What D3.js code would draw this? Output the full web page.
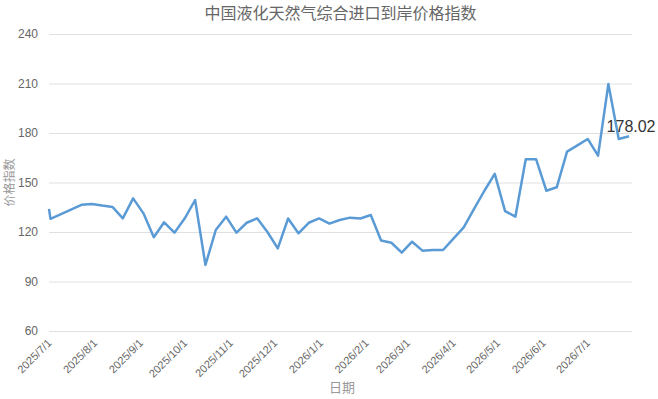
<!DOCTYPE html>
<html>
<head>
<meta charset="utf-8">
<script src="https://cdn.jsdelivr.net/npm/d3@7"></script>
<style>
  body { margin: 0; background: #fff; }
  svg { font-family: "Liberation Sans", Arial, "Noto Sans CJK SC", sans-serif; }
</style>
</head>
<body>
<svg id="chart"></svg>
<script>
var dates = ["2025-07-01","2025-07-02","2025-07-23","2025-07-30","2025-08-06","2025-08-13","2025-08-20","2025-08-27",
  "2025-09-03","2025-09-10","2025-09-17","2025-09-24","2025-10-01","2025-10-08","2025-10-15","2025-10-22","2025-10-29",
  "2025-11-05","2025-11-12","2025-11-19","2025-11-26","2025-12-03","2025-12-10","2025-12-17","2025-12-24","2025-12-31",
  "2026-01-07","2026-01-14","2026-01-21","2026-01-28","2026-02-04","2026-02-11","2026-02-18","2026-02-25",
  "2026-03-04","2026-03-11","2026-03-18","2026-03-25","2026-04-01","2026-04-08","2026-04-15","2026-04-22","2026-04-29",
  "2026-05-06","2026-05-13","2026-05-20","2026-05-27","2026-06-03","2026-06-10","2026-06-17","2026-06-24",
  "2026-07-01","2026-07-08","2026-07-15","2026-07-22","2026-07-29"];
var values = [134, 128, 136.5, 137, 136, 135.2, 128.3, 140.4,
  131.3, 116.8, 125.9, 119.6, 128.3, 139.4, 100, 121.2, 129.3,
  119.6, 125.6, 128.3, 120, 110.1, 128.2, 119.2, 125.6, 128.2,
  125.1, 127.3, 128.7, 128.2, 130.3, 114.8, 113.5, 107.5,
  114.1, 108.7, 109.1, 109.1, 116, 122.8, 134, 145, 155.2,
  132.7, 129.3, 164.1, 164.1, 145, 147.1, 168.7, 172.5,
  176.4, 166.3, 209.7, 176.4, 178.02];
var yTicks = [60, 90, 120, 150, 180, 210, 240];
var xTicks = ["2025-07-01","2025-08-01","2025-09-01","2025-10-01","2025-11-01","2025-12-01","2026-01-01",
  "2026-02-01","2026-03-01","2026-04-01","2026-05-01","2026-06-01","2026-07-01"];
var title = "中国液化天然气综合进口到岸价格指数";

var width = 658, height = 399;
var plotLeft = 49, plotRight = 632, plotTop = 34, plotBottom = 331;
var parse = d3.timeParse("%Y-%m-%d");
var fmt = d3.timeFormat("%Y/%-m/%-d");

var data = dates.map(function(d, i) { return {date: parse(d), value: values[i]}; });

var svg = d3.select("#chart").attr("width", width).attr("height", height);

var x = d3.scaleTime()
    .domain([parse("2025-07-01"), parse("2026-07-31")])
    .range([plotLeft, plotRight]);
var y = d3.scaleLinear().domain([60, 240]).range([plotBottom, plotTop]);

// grid lines + y labels
var yAxis = svg.append("g")
    .attr("transform", "translate(" + plotLeft + ",0)")
    .call(d3.axisLeft(y).tickValues(yTicks).tickSize(-(plotRight - plotLeft)).tickPadding(11));
yAxis.select(".domain").remove();
yAxis.selectAll(".tick line").attr("stroke", "#e0e0e0");
yAxis.selectAll(".tick text").attr("fill", "#666").style("font-size", "12px");

var xAxis = svg.append("g")
    .attr("transform", "translate(0," + plotBottom + ")")
    .call(d3.axisBottom(x).tickValues(xTicks.map(parse)).tickFormat(fmt).tickSize(0));
xAxis.select(".domain").remove();
xAxis.selectAll(".tick text")
    .attr("fill", "#666")
    .style("font-size", "11px")
    .attr("text-anchor", "end")
    .attr("y", 0)
    .attr("dy", "0.35em")
    .attr("transform", "translate(0,10) rotate(-45)");

var line = d3.line()
    .x(function(d) { return x(d.date); })
    .y(function(d) { return y(d.value); });

svg.append("path")
    .datum(data)
    .attr("fill", "none")
    .attr("stroke", "#5b9bd5")
    .attr("stroke-width", 2.5)
    .attr("stroke-linejoin", "round")
    .attr("d", line);

var lastPt = data[data.length - 1];
svg.append("text")
    .attr("x", x(lastPt.date) + 2)
    .attr("y", y(lastPt.value) - 4)
    .attr("text-anchor", "middle")
    .attr("fill", "#333")
    .style("font-size", "16px")
    .text(lastPt.value.toFixed(2));

svg.append("text")
    .attr("x", (plotLeft + plotRight) / 2)
    .attr("y", 19)
    .attr("text-anchor", "middle")
    .attr("fill", "#666")
    .style("font-size", "16px")
    .text(title);

svg.append("text")
    .attr("transform", "translate(14," + ((plotTop + plotBottom) / 2) + ") rotate(-90)")
    .attr("text-anchor", "middle")
    .attr("fill", "#999")
    .style("font-size", "12px")
    .text("价格指数");

svg.append("text")
    .attr("x", 342)
    .attr("y", 392)
    .attr("text-anchor", "middle")
    .attr("fill", "#999")
    .style("font-size", "13px")
    .text("日期");
</script>
</body>
</html>
